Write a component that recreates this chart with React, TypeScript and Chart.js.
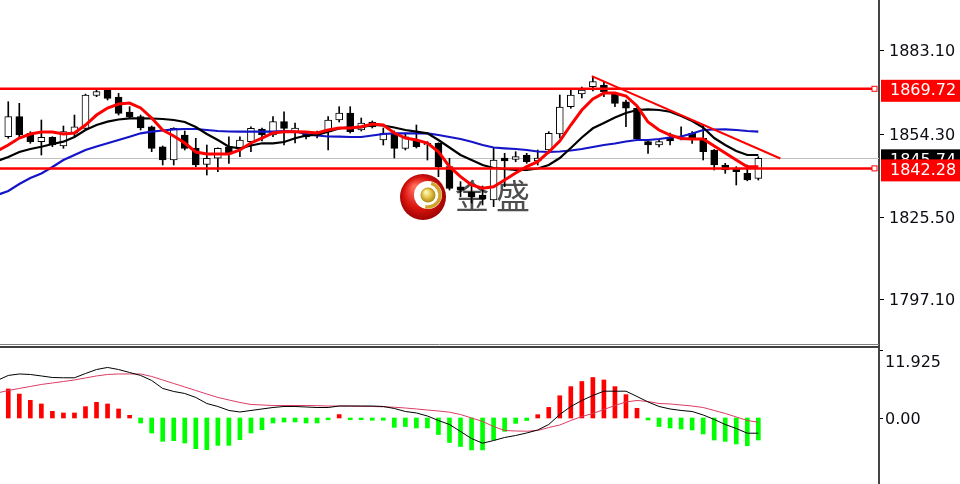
import React, { useEffect, useRef } from "react";
import { Chart, registerables } from "chart.js";
Chart.register(...registerables);

// ---------- price data (one value per candle, candle index 0..68) ----------
const OPEN = [1853.20,1860.10,1854.38,1851.48,1853.00,1850.00,1854.38,1856.10,1867.41,1869.31,1866.89,1861.72,1860.10,1856.65,1849.75,1845.17,1853.79,1849.20,1843.68,1845.76,1849.75,1849.20,1851.48,1855.86,1853.79,1858.38,1854.48,1854.13,1853.44,1854.93,1858.96,1861.37,1855.51,1858.27,1852.06,1854.48,1849.20,1852.06,1850.34,1850.93,1842.86,1835.96,1834.13,1833.10,1831.37,1845.86,1845.41,1846.89,1844.82,1848.62,1854.13,1863.55,1867.93,1870.44,1871.03,1868.17,1865.27,1863.00,1851.48,1850.34,1853.10,1852.93,1854.38,1852.65,1848.62,1843.44,1842.31,1840.58,1838.85];
const HIGH = [1865.27,1864.72,1854.93,1858.96,1853.20,1856.89,1860.68,1867.90,1869.55,1869.55,1868.17,1863.55,1860.68,1856.90,1850.00,1856.30,1855.17,1852.65,1850.34,1849.40,1853.20,1853.20,1856.65,1856.20,1860.10,1861.82,1857.93,1854.82,1855.17,1860.10,1863.55,1863.55,1859.65,1858.62,1856.20,1855.17,1854.48,1857.24,1851.48,1851.10,1845.76,1837.69,1836.55,1836.20,1849.20,1847.48,1848.03,1847.48,1848.62,1854.93,1867.58,1869.89,1870.34,1873.79,1872.17,1868.40,1865.86,1863.55,1852.06,1852.06,1854.48,1856.65,1854.93,1857.24,1848.80,1844.03,1842.86,1843.44,1846.31];
const LOW = [1852.65,1853.20,1850.93,1846.89,1849.75,1849.20,1853.44,1855.51,1867.00,1865.86,1860.68,1859.55,1855.51,1848.03,1843.44,1843.44,1848.62,1842.86,1839.99,1841.13,1844.03,1846.31,1848.03,1851.72,1853.20,1850.34,1851.03,1852.41,1852.75,1848.62,1858.27,1854.48,1855.17,1856.20,1850.34,1845.86,1848.62,1849.31,1845.17,1839.41,1834.82,1832.51,1830.34,1829.65,1829.07,1835.96,1844.58,1844.03,1843.44,1847.48,1852.75,1863.00,1866.55,1868.96,1867.00,1863.55,1856.65,1852.06,1847.48,1849.65,1850.34,1852.06,1850.93,1845.17,1841.72,1840.58,1836.55,1838.00,1838.27];
const CLOSE = [1860.10,1853.79,1851.48,1853.00,1850.34,1854.93,1856.65,1867.58,1868.72,1866.44,1861.27,1859.99,1856.20,1849.20,1845.17,1856.10,1849.20,1843.44,1845.76,1849.20,1847.48,1852.06,1856.10,1853.79,1858.38,1856.10,1856.20,1853.10,1854.13,1858.96,1861.37,1854.93,1857.93,1856.55,1854.48,1849.20,1853.20,1849.75,1850.93,1842.86,1835.41,1834.82,1832.41,1831.72,1845.17,1844.82,1846.31,1844.58,1845.86,1854.38,1863.44,1867.58,1869.31,1872.17,1868.72,1864.72,1863.00,1852.41,1850.34,1851.48,1851.72,1852.41,1852.65,1848.03,1843.44,1841.72,1841.13,1838.27,1845.74];

// ---------- moving averages (first value belongs to the bar just off-screen, index -1) ----------
const MA_RED = [1848.27,1850.34,1852.75,1854.13,1854.82,1854.82,1854.13,1854.48,1857.24,1860.68,1863.10,1864.48,1864.82,1863.10,1859.65,1855.51,1853.44,1851.03,1847.93,1847.24,1847.24,1847.24,1848.62,1851.03,1852.75,1854.48,1854.93,1854.93,1854.82,1854.48,1855.51,1856.20,1856.20,1856.65,1857.58,1857.24,1854.48,1852.75,1852.06,1851.03,1848.03,1842.86,1839.41,1836.55,1835.41,1835.96,1838.27,1840.68,1842.86,1844.58,1847.93,1851.72,1857.24,1862.41,1866.20,1868.27,1868.27,1867.24,1863.79,1858.27,1855.51,1853.79,1852.58,1852.41,1852.41,1850.00,1847.58,1845.17,1842.86,1842.86];
const MA_BLACK = [1844.82,1846.20,1847.93,1848.96,1849.75,1850.69,1851.48,1853.10,1855.51,1857.24,1858.38,1859.13,1859.55,1859.55,1859.48,1859.31,1858.96,1858.27,1856.55,1854.13,1852.06,1849.75,1849.20,1850.17,1850.93,1850.93,1851.37,1852.65,1853.62,1853.79,1854.93,1856.03,1856.55,1856.37,1857.24,1857.06,1856.37,1855.51,1854.93,1854.38,1852.06,1849.48,1846.89,1845.17,1843.44,1842.41,1842.06,1841.72,1841.72,1842.24,1843.44,1845.86,1849.31,1852.93,1856.10,1857.93,1859.82,1861.37,1862.41,1862.65,1862.41,1861.82,1860.34,1858.62,1856.37,1852.75,1850.34,1848.27,1846.89,1846.89];
const MA_BLUE = [1833.10,1834.48,1836.89,1838.96,1840.51,1842.75,1845.17,1846.89,1848.62,1849.83,1850.93,1852.06,1853.20,1854.38,1854.93,1855.34,1855.75,1855.86,1855.86,1855.51,1855.17,1854.99,1854.93,1854.93,1854.93,1854.93,1855.17,1854.99,1854.13,1853.62,1853.27,1853.20,1853.10,1853.10,1853.62,1854.13,1854.38,1854.38,1854.38,1854.38,1853.79,1853.10,1852.41,1851.48,1850.34,1849.48,1849.20,1848.96,1848.62,1848.10,1847.93,1848.10,1848.44,1848.96,1849.65,1850.34,1850.86,1851.55,1852.06,1852.06,1852.41,1852.93,1853.27,1854.31,1855.51,1855.68,1855.75,1855.51,1855.17,1854.93];

// ---------- MACD (histogram index 0..68; lines start at index -1) ----------
const MACD_HIST = [5.09,4.2,3.1,2.46,1.17,0.88,0.88,1.99,2.75,2.46,1.58,0.47,-0.88,-2.63,-4.09,-3.98,-4.39,-5.38,-5.56,-4.8,-4.8,-3.8,-2.63,-2.05,-0.88,-0.7,-0.7,-0.88,-0.88,-0.3,0.6,-0.3,-0.3,-0.4,-0.4,-1.64,-1.5,-1.75,-1.75,-2.9,-4.3,-5.0,-5.6,-5.6,-3.86,-2.35,-0.95,-0.45,0.58,1.86,3.9,5.5,6.4,7.1,6.67,5.5,4.1,1.7,-0.35,-1.5,-1.75,-1.93,-2.1,-2.8,-3.86,-4.1,-4.56,-4.86,-3.86];
const MACD_DIF = [6.58,7.46,7.72,7.63,7.37,7.1,7.05,7.05,7.8,8.5,8.86,8.5,7.98,7.46,6.58,5.18,4.65,4.3,3.6,2.54,2.02,1.32,1.05,1.32,1.58,1.84,2.02,2.02,1.93,1.84,1.84,2.1,2.1,2.1,2.1,2.02,1.67,1.14,0.88,0.35,-0.44,-1.14,-2.37,-3.6,-4.42,-3.95,-3.42,-3.07,-2.63,-2.1,-1.14,0.61,2.02,3.07,3.95,4.7,4.7,4.7,3.77,2.81,2.02,1.58,1.32,1.14,0.53,-0.26,-1.14,-1.84,-2.67,-2.67];
const MACD_DEA = [4.39,4.82,5.18,5.53,5.88,6.14,6.4,6.67,7.02,7.37,7.63,7.72,7.72,7.72,7.28,6.67,6.05,5.44,4.82,4.21,3.6,3.16,2.72,2.37,2.28,2.19,2.19,2.19,2.19,2.16,2.1,2.1,2.1,2.05,2.02,1.96,1.89,1.75,1.58,1.4,1.23,1.02,0.61,0,-0.61,-1.49,-2.19,-2.28,-2.32,-2.19,-1.67,-1.23,-0.44,0.26,0.79,1.49,2.19,2.81,3.07,2.89,2.54,2.46,2.28,2.1,1.84,1.32,0.79,0.18,-0.44,-0.74];

// ---------- axes / levels ----------
const PRICE_TICKS = [1883.10, 1854.30, 1825.50, 1797.10];
const MACD_TICKS = [11.925, 0];
const LEVELS = [1869.72, 1842.28];
const BID = 1845.74;
const TREND_X = [52.9, 70.0];
const TREND_Y = [1874.1, 1845.7];

const X_MIN = -0.75;
const X_MAX = 78.94;
const PRICE_MIN = 1781.38;
const PRICE_MAX = 1900.34;
const MACD_MIN = -11.575;
const MACD_MAX = 12.8;

const FONT = '16px "DejaVu Sans"';
const TEXT_COLOR = "#0c0c14";

const pts = (arr: number[]) => arr.map((v, i) => ({ x: i, y: v }));
const ptsFromPrev = (arr: number[]) => arr.map((v, i) => ({ x: i - 1, y: v }));

function drawLogo(ctx: CanvasRenderingContext2D) {
  const cx = 423, cy = 197, r = 23;
  ctx.save();
  let g = ctx.createRadialGradient(cx - 8, cy - 10, 2, cx, cy, r + 2);
  g.addColorStop(0, "#ff6a5a");
  g.addColorStop(0.6, "#d8140e");
  g.addColorStop(1, "#960000");
  ctx.fillStyle = g;
  ctx.beginPath();
  ctx.arc(cx, cy, r, 0, Math.PI * 2);
  ctx.fill();
  ctx.fillStyle = "#ffffff";
  ctx.beginPath();
  ctx.arc(cx + 5, cy - 2, 14, 0, Math.PI * 2);
  ctx.fill();
  ctx.strokeStyle = "#cfa52c";
  ctx.lineWidth = 3.5;
  ctx.beginPath();
  ctx.arc(cx + 5, cy - 2, 12, -1.3, 1.8);
  ctx.stroke();
  g = ctx.createRadialGradient(cx + 3, cy - 5, 1, cx + 5, cy - 2, 8);
  g.addColorStop(0, "#fff4b8");
  g.addColorStop(0.5, "#e2c244");
  g.addColorStop(1, "#a8800c");
  ctx.fillStyle = g;
  ctx.beginPath();
  ctx.arc(cx + 5, cy - 2, 7.5, 0, Math.PI * 2);
  ctx.fill();
  ctx.fillStyle = "#4e4e4e";
  ctx.font = '34px "Noto Sans CJK SC"';
  ctx.textBaseline = "middle";
  ctx.textAlign = "left";
  ctx.fillText("金", 455, 196);
  ctx.fillText("盛", 496, 196);
  ctx.restore();
}

const mainOverlay = {
  id: "mainOverlay",
  beforeDatasetsDraw(chart: any) {
    const { ctx, chartArea, scales } = chart;
    const ys = scales.y;
    ctx.save();
    const by = Math.round(ys.getPixelForValue(BID)) + 0.5;
    ctx.strokeStyle = "#c0c0c0";
    ctx.lineWidth = 1;
    ctx.beginPath();
    ctx.moveTo(chartArea.left, by);
    ctx.lineTo(chartArea.right, by);
    ctx.stroke();
    ctx.restore();
    drawLogo(ctx);
  },
  afterDatasetsDraw(chart: any) {
    const { ctx, chartArea, scales } = chart;
    const ys = scales.y;
    ctx.save();
    LEVELS.forEach((v) => {
      const y = ys.getPixelForValue(v);
      ctx.strokeStyle = "#ff0000";
      ctx.lineWidth = 2.5;
      ctx.beginPath();
      ctx.moveTo(chartArea.left, y);
      ctx.lineTo(chartArea.right - 7, y);
      ctx.stroke();
      ctx.fillStyle = "#ffffff";
      ctx.fillRect(chartArea.right - 7, y - 2.5, 5, 5);
      ctx.lineWidth = 1;
      ctx.strokeRect(chartArea.right - 7, y - 2.5, 5, 5);
    });
    ctx.strokeStyle = "#808080";
    ctx.lineWidth = 1;
    ctx.beginPath();
    ctx.moveTo(0, chart.height - 0.5);
    ctx.lineTo(chartArea.right, chart.height - 0.5);
    ctx.stroke();
    ctx.restore();
  },
  afterDraw(chart: any) {
    const { ctx, chartArea, scales } = chart;
    const ys = scales.y;
    const ax = chartArea.right + 1;
    ctx.save();
    ctx.font = FONT;
    ctx.textBaseline = "middle";
    ctx.textAlign = "left";
    PRICE_TICKS.forEach((t) => {
      const y = Math.round(ys.getPixelForValue(t)) + 0.5;
      ctx.strokeStyle = "#000";
      ctx.lineWidth = 1;
      ctx.beginPath();
      ctx.moveTo(ax, y);
      ctx.lineTo(ax + 4, y);
      ctx.stroke();
      ctx.fillStyle = TEXT_COLOR;
      ctx.fillText(t.toFixed(2), ax + 9, y + 1);
    });
    const box = (v: number, bg: string) => {
      const y = ys.getPixelForValue(v);
      ctx.fillStyle = bg;
      ctx.fillRect(ax + 1, y - 9, 80, 22);
      ctx.fillStyle = "#ffffff";
      ctx.fillText(v.toFixed(2), ax + 10, y + 2);
    };
    box(BID, "#000000");
    LEVELS.forEach((v) => box(v, "#ff0000"));
    ctx.restore();
  },
};

const macdOverlay = {
  id: "macdOverlay",
  afterDraw(chart: any) {
    const { ctx, chartArea, scales } = chart;
    const ys = scales.y;
    const ax = chartArea.right + 1;
    ctx.save();
    ctx.strokeStyle = "#404040";
    ctx.lineWidth = 2;
    ctx.beginPath();
    ctx.moveTo(0, 2);
    ctx.lineTo(chartArea.right, 2);
    ctx.stroke();
    ctx.font = FONT;
    ctx.textBaseline = "middle";
    ctx.textAlign = "left";
    MACD_TICKS.forEach((t, k) => {
      const y = Math.round(ys.getPixelForValue(t)) + 0.5;
      ctx.strokeStyle = "#000";
      ctx.lineWidth = 1;
      ctx.beginPath();
      ctx.moveTo(ax, y);
      ctx.lineTo(ax + 3, y);
      ctx.stroke();
      ctx.fillStyle = TEXT_COLOR;
      const label = k === 0 ? t.toFixed(3) : t.toFixed(2);
      ctx.fillText(label, ax + 5, k === 0 ? y + 12 : y + 1);
    });
    ctx.restore();
  },
};

function yAxis(min: number, max: number) {
  return {
    type: "linear",
    position: "right",
    min,
    max,
    grid: { display: false, drawTicks: false },
    border: { display: true, color: "#444444", width: 2 },
    ticks: { display: false },
    afterFit: (s: any) => {
      s.width = 81;
      s.paddingTop = 0;
      s.paddingBottom = 0;
    },
  };
}

const xAxis = { type: "linear", min: X_MIN, max: X_MAX, display: false, offset: false };

export default function App() {
  const mainRef = useRef<HTMLCanvasElement>(null);
  const macdRef = useRef<HTMLCanvasElement>(null);

  useEffect(() => {
    const idx = OPEN.map((_, i) => i);
    const wicks = idx.map((i) => ({ x: i, y: [LOW[i], HIGH[i]] }));
    const bodies = idx.map((i) => {
      const lo = Math.min(OPEN[i], CLOSE[i]);
      const hi = Math.max(OPEN[i], CLOSE[i]);
      return { x: i, y: [lo, Math.max(hi, lo + 0.3)] };
    });
    const bodyColors = idx.map((i) => (CLOSE[i] >= OPEN[i] ? "#ffffff" : "#000000"));

    const main = new Chart(mainRef.current as HTMLCanvasElement, {
      type: "bar",
      data: {
        datasets: [
          { type: "line", data: TREND_X.map((x, k) => ({ x, y: TREND_Y[k] })), borderColor: "#ff0000", borderWidth: 2, pointRadius: 0, order: 0 } as any,
          { type: "line", data: ptsFromPrev(MA_RED), borderColor: "#ff0000", borderWidth: 3, pointRadius: 0, order: 1 } as any,
          { type: "line", data: ptsFromPrev(MA_BLACK), borderColor: "#000000", borderWidth: 2.2, pointRadius: 0, order: 2 } as any,
          { type: "line", data: ptsFromPrev(MA_BLUE), borderColor: "#1414c8", borderWidth: 2.2, pointRadius: 0, order: 3 } as any,
          { type: "bar", data: bodies, backgroundColor: bodyColors, borderColor: "#000000", borderWidth: 1, borderSkipped: false, barThickness: 7, grouped: false, order: 5 } as any,
          { type: "bar", data: wicks, backgroundColor: "#000000", borderWidth: 0, barThickness: 1, grouped: false, order: 6 } as any,
        ],
      },
      options: {
        animation: false,
        responsive: false,
        maintainAspectRatio: false,
        events: [],
        layout: { padding: 0 },
        plugins: { legend: { display: false }, tooltip: { enabled: false } },
        scales: { x: xAxis as any, y: yAxis(PRICE_MIN, PRICE_MAX) as any },
      },
      plugins: [mainOverlay],
    });

    const macd = new Chart(macdRef.current as HTMLCanvasElement, {
      type: "bar",
      data: {
        datasets: [
          { type: "line", data: ptsFromPrev(MACD_DIF), borderColor: "#000000", borderWidth: 1, pointRadius: 0, order: 0 } as any,
          { type: "line", data: ptsFromPrev(MACD_DEA), borderColor: "#dc3c64", borderWidth: 1, pointRadius: 0, order: 1 } as any,
          { type: "bar", data: pts(MACD_HIST), backgroundColor: MACD_HIST.map((v) => (v >= 0 ? "#ff0000" : "#00ff00")), borderWidth: 0, barThickness: 4, grouped: false, order: 2 } as any,
        ],
      },
      options: {
        animation: false,
        responsive: false,
        maintainAspectRatio: false,
        events: [],
        layout: { padding: 0 },
        plugins: { legend: { display: false }, tooltip: { enabled: false } },
        scales: { x: xAxis as any, y: yAxis(MACD_MIN, MACD_MAX) as any },
      },
      plugins: [macdOverlay],
    });

    return () => {
      main.destroy();
      macd.destroy();
    };
  }, []);

  return (
    <div style={{ position: "absolute", left: 0, top: 0, width: 960, height: 484, background: "#ffffff", overflow: "hidden" }}>
      <canvas ref={mainRef} width={960} height={345} style={{ position: "absolute", left: 0, top: 0 }} />
      <canvas ref={macdRef} width={960} height={139} style={{ position: "absolute", left: 0, top: 345 }} />
    </div>
  );
}
